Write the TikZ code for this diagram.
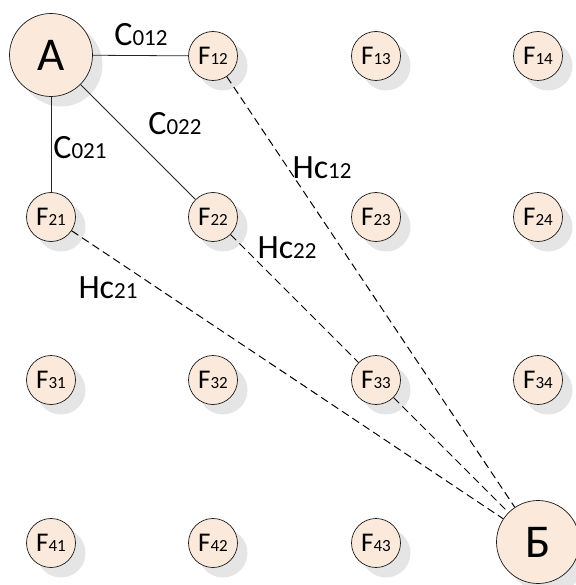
\documentclass[tikz,border=0pt]{standalone}
\usepackage{fontspec}
\setmainfont{Carlito}
\usetikzlibrary{shadows}
\definecolor{peach}{RGB}{251,233,219}
\newcommand\mytxt[2]{{\fontsize{34}{34}\selectfont #1}{\fontsize{23}{23}\selectfont #2}}
\newcommand\fname[1]{{\fontsize{27}{27}\selectfont F}{\fontsize{17}{17}\selectfont #1}}
\tikzset{
  sh/.style={drop shadow={shadow xshift=10pt, shadow yshift=-10pt, fill=black, opacity=0.1}},
  fnode/.style={circle, draw=black!90, line width=0.7pt, fill=peach, minimum size=49pt, inner sep=0pt, sh},
  bignode/.style={circle, draw=black!90, line width=0.7pt, fill=peach, minimum size=83pt, inner sep=0pt, sh, font=\fontsize{47}{47}\selectfont},
  solidline/.style={draw=black!85, line width=0.8pt},
  dashline/.style={draw=black, line width=1pt, dash pattern=on 8pt off 4.5pt},
  lbl/.style={inner sep=0pt}
}
\begin{document}
\begin{tikzpicture}[x=1pt,y=-1pt]
\useasboundingbox (0,0) rectangle (575,585);
% grid nodes
\node[fnode] (F12) at (213,56) {\fname{12}};
\node[fnode] (F13) at (376,56) {\fname{13}};
\node[fnode] (F14) at (538,56) {\fname{14}};
\node[fnode] (F21) at (51,217) {\fname{21}};
\node[fnode] (F22) at (213,217) {\fname{22}};
\node[fnode] (F23) at (376,217) {\fname{23}};
\node[fnode] (F24) at (538,217) {\fname{24}};
\node[fnode] (F31) at (51,380) {\fname{31}};
\node[fnode] (F32) at (213,380) {\fname{32}};
\node[fnode] (F33) at (376,380) {\fname{33}};
\node[fnode] (F34) at (538,380) {\fname{34}};
\node[fnode] (F41) at (51,543) {\fname{41}};
\node[fnode] (F42) at (213,543) {\fname{42}};
\node[fnode] (F43) at (376,543) {\fname{43}};
\node[bignode] (A) at (51,55) {A};
\node[bignode] (B) at (538,542) {Б};
% solid connectors
\draw[solidline] (A) -- (F12);
\draw[solidline] (A) -- (F21);
\draw[solidline] (A) -- (F22);
% dashed connectors
\draw[dashline] (F12) -- (B);
\draw[dashline] (F22) -- (F33);
\draw[dashline] (F33) -- (B);
\draw[dashline] (F21) -- (B);
% labels
\node[lbl] (c012) at (141,35) {\mytxt{С}{012}};
\node[lbl] (c022) at (175,124) {\mytxt{С}{022}};
\node[lbl] (c021) at (80,148) {\mytxt{С}{021}};
\node[lbl] (h12) at (322,168) {\mytxt{Нс}{12}};
\node[lbl] (h22) at (287,248) {\mytxt{Нс}{22}};
\node[lbl] (h21) at (108,288) {\mytxt{Нс}{21}};
\end{tikzpicture}
\end{document}
